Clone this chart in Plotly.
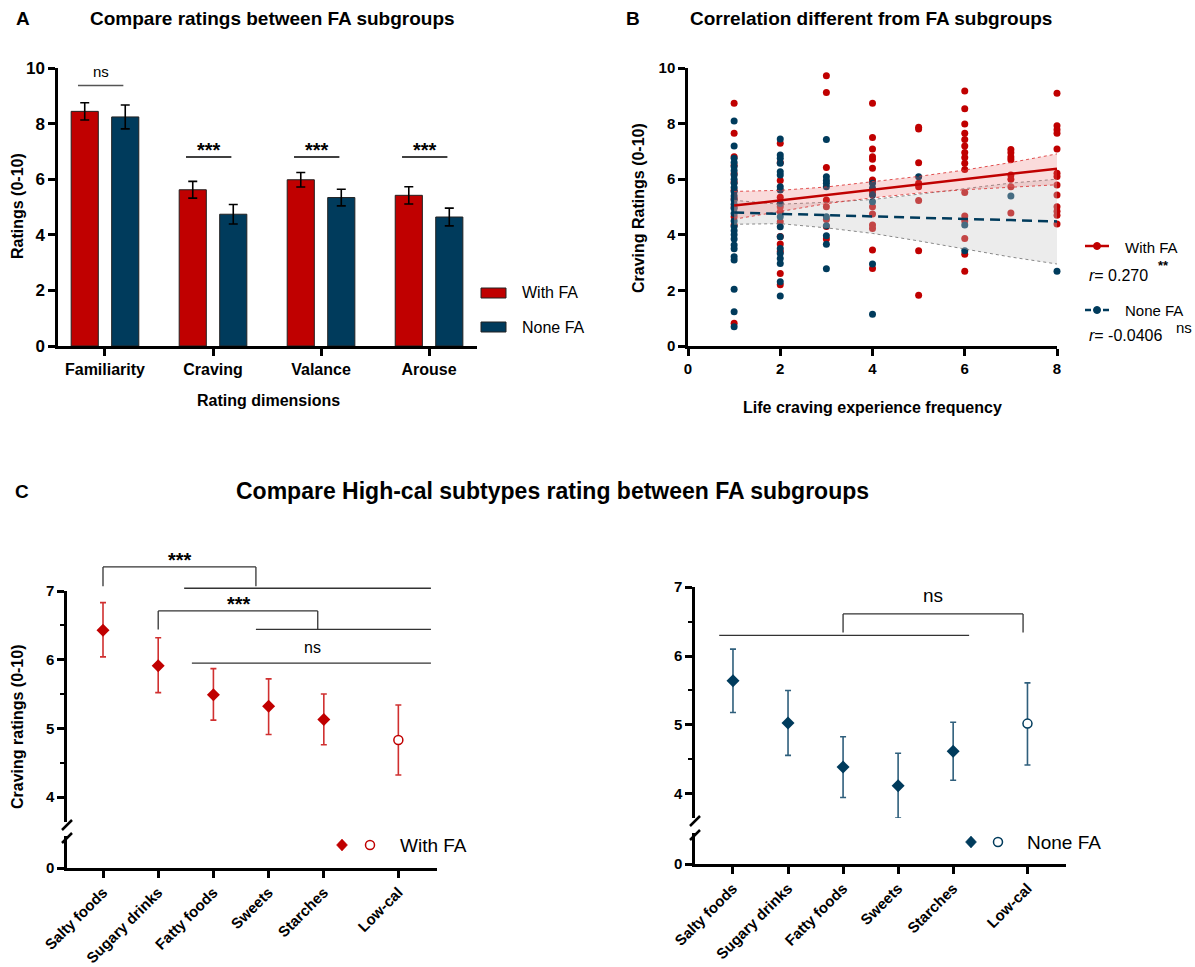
import plotly.graph_objects as go

W, H = 1195, 967

RED = "#C00000"
BLUE = "#003B5C"
RED_ERR = "#D03030"
BLUE_ERR = "#2F5F7C"
FONT = "Liberation Sans, Arial, Helvetica, sans-serif"

# ---------------- Panel A data ----------------
dims = ["Familiarity", "Craving", "Valance", "Arouse"]
a_fa_mean = [8.44, 5.62, 5.98, 5.42]
a_fa_sem = [0.31, 0.30, 0.26, 0.31]
a_nofa_mean = [8.24, 4.74, 5.34, 4.64]
a_nofa_sem = [0.43, 0.35, 0.30, 0.32]
a_sig_labels = ["ns", "***", "***", "***"]
a_sig_line_y = [9.37, 6.8, 6.8, 6.8]

# ---------------- Panel B data ----------------
b_freq_levels = [1, 2, 3, 4, 5, 6, 7, 8]
b_fa_ratings = [
    [8.73, 7.65, 6.81, 6.5, 6.2, 5.9, 5.6, 5.3, 5.0, 4.65, 4.35, 0.82],
    [7.29, 6.6, 5.95, 5.35, 5.01, 4.83, 4.47, 3.94, 3.67, 3.4, 2.61, 2.2],
    [9.72, 9.12, 6.42, 5.25, 5.01, 4.55, 4.3, 3.85],
    [8.73, 7.50, 7.09, 6.81, 6.72, 6.39, 5.97, 5.55, 5.01, 4.75, 4.35, 4.23, 3.45, 2.79],
    [7.87, 7.81, 6.59, 5.85, 5.73, 5.23, 3.43, 1.83],
    [9.17, 8.53, 7.99, 7.65, 7.43, 7.19, 6.96, 6.78, 6.57, 6.35, 5.52, 4.68, 4.5, 3.87, 3.3, 2.69],
    [7.07, 6.95, 6.8, 6.7, 6.15, 6.0, 5.73, 4.78],
    [9.09, 7.92, 7.78, 7.65, 7.09, 6.21, 6.1, 5.79, 5.43, 5.01, 4.85, 4.7, 4.39],
]
b_nofa_ratings = [
    [8.09, 7.19, 6.75, 6.6, 6.45, 6.3, 6.15, 6.0, 5.85, 5.7, 5.55, 5.4, 5.25, 5.1, 4.95,
     4.77, 4.5, 4.3, 4.15, 4.0, 3.85, 3.63, 3.5, 3.21, 3.09, 2.04, 1.23, 0.69],
    [7.45, 6.87, 6.75, 6.57, 6.27, 6.15, 5.73, 5.61, 5.13, 4.65, 4.29, 3.93, 3.51, 3.33,
     3.15, 2.97, 2.31, 1.80],
    [7.43, 6.09, 5.95, 5.85, 5.73, 4.65, 4.33, 3.97, 3.66, 2.78],
    [5.85, 5.67, 5.43, 5.19, 2.95, 1.14],
    [6.09],
    [4.35, 3.43],
    [5.40],
    [2.69],
]
b_fit_x = [1, 2, 3, 4, 5, 6, 7, 8]
b_fa_fit = [5.05, 5.24, 5.43, 5.62, 5.81, 6.00, 6.19, 6.38]
b_fa_ci_hi = [5.56, 5.60, 5.72, 5.90, 6.10, 6.33, 6.60, 6.91]
b_fa_ci_lo = [4.56, 4.85, 5.12, 5.33, 5.50, 5.62, 5.72, 5.80]
b_nofa_fit = [4.80, 4.75, 4.71, 4.66, 4.62, 4.57, 4.53, 4.48]
b_nofa_ci_hi = [5.24, 5.10, 5.17, 5.27, 5.46, 5.66, 5.86, 6.00]
b_nofa_ci_lo = [4.38, 4.40, 4.25, 4.05, 3.78, 3.48, 3.20, 2.95]
b_r_fa = "0.270"
b_r_nofa = "-0.0406"

# ---------------- Panel C data ----------------
c_cats = ["Salty foods", "Sugary drinks", "Fatty foods", "Sweets", "Starches", "Low-cal"]
c_fa_mean = [6.43, 5.91, 5.49, 5.32, 5.13, 4.83]
c_fa_hi = [6.83, 6.32, 5.87, 5.72, 5.50, 5.34]
c_fa_lo = [6.04, 5.52, 5.12, 4.91, 4.76, 4.32]
c_nofa_mean = [5.64, 5.03, 4.39, 4.12, 4.62, 5.02]
c_nofa_hi = [6.10, 5.50, 4.83, 4.59, 5.04, 5.61]
c_nofa_lo = [5.18, 4.56, 3.95, 3.65, 4.20, 4.42]

# ---------------- layout geometry (pixels) ----------------
c_slot = [0, 1, 2, 3, 4, 5.35]   # horizontal slots of the categories (Low-cal set apart)

A_X_DOM, A_X_RANGE = (58, 477), (-0.435, 3.444)
A_Y_DOM, A_Y_RANGE = (346, 68), (0, 10)
B_X_DOM, B_X_RANGE = (688, 1057), (0, 8)
B_Y_DOM, B_Y_RANGE = (346, 68), (0, 10)
CL_X_DOM, CL_X_RANGE = (67, 437), (-0.652, 6.05)
CL_YU_DOM, CL_YU_RANGE = (822, 591), (3.636, 7.0)
CL_YL_DOM, CL_YL_RANGE = (868, 836), (0, 0.466)
CR_X_DOM, CR_X_RANGE = (695, 1066), (-0.69, 6.05)
CR_YU_DOM, CR_YU_RANGE = (818, 587), (3.652, 7.0)
CR_YL_DOM, CR_YL_RANGE = (864, 833), (0, 0.449)


def PX(px):
    return px / W


def PY(py):
    return 1 - py / H


def lin(v, r, d):
    return d[0] + (v - r[0]) / (r[1] - r[0]) * (d[1] - d[0])


def xdom(d):
    return [PX(d[0]), PX(d[1])]


def ydom(d):
    return [PY(d[0]), PY(d[1])]


fig = go.Figure()

# ---------------- Panel A traces ----------------
fig.add_trace(go.Bar(
    x=dims, y=a_fa_mean, name="With FA", showlegend=False,
    marker=dict(color=RED, line=dict(color="#222222", width=1)),
    error_y=dict(type="data", array=a_fa_sem, color="black", thickness=1.6, width=4.5),
    xaxis="x", yaxis="y"))
fig.add_trace(go.Bar(
    x=dims, y=a_nofa_mean, name="None FA", showlegend=False,
    marker=dict(color=BLUE, line=dict(color="#222222", width=1)),
    error_y=dict(type="data", array=a_nofa_sem, color="black", thickness=1.6, width=4.5),
    xaxis="x", yaxis="y"))

# ---------------- Panel B traces ----------------
fa_x, fa_y, nf_x, nf_y = [], [], [], []
for lvl, vals in zip(b_freq_levels, b_fa_ratings):
    fa_x += [lvl] * len(vals)
    fa_y += vals
for lvl, vals in zip(b_freq_levels, b_nofa_ratings):
    nf_x += [lvl] * len(vals)
    nf_y += vals

fig.add_trace(go.Scatter(x=fa_x, y=fa_y, mode="markers", showlegend=False, cliponaxis=False,
                         marker=dict(color=RED, size=7), xaxis="x2", yaxis="y2"))
fig.add_trace(go.Scatter(x=nf_x, y=nf_y, mode="markers", showlegend=False, cliponaxis=False,
                         marker=dict(color=BLUE, size=7), xaxis="x2", yaxis="y2"))
fig.add_trace(go.Scatter(x=b_fit_x, y=b_nofa_ci_hi, mode="lines", showlegend=False,
                         line=dict(color="rgba(110,110,110,0.8)", width=1, dash="dot"),
                         xaxis="x2", yaxis="y2"))
fig.add_trace(go.Scatter(x=b_fit_x, y=b_nofa_ci_lo, mode="lines", showlegend=False, fill="tonexty",
                         fillcolor="rgba(200,200,200,0.35)",
                         line=dict(color="rgba(110,110,110,0.8)", width=1, dash="dot"),
                         xaxis="x2", yaxis="y2"))
fig.add_trace(go.Scatter(x=b_fit_x, y=b_fa_ci_hi, mode="lines", showlegend=False,
                         line=dict(color="rgba(220,50,50,0.85)", width=1, dash="dot"),
                         xaxis="x2", yaxis="y2"))
fig.add_trace(go.Scatter(x=b_fit_x, y=b_fa_ci_lo, mode="lines", showlegend=False, fill="tonexty",
                         fillcolor="rgba(235,110,110,0.25)",
                         line=dict(color="rgba(220,50,50,0.85)", width=1, dash="dot"),
                         xaxis="x2", yaxis="y2"))
fig.add_trace(go.Scatter(x=b_fit_x, y=b_fa_fit, mode="lines", showlegend=False,
                         line=dict(color=RED, width=2.5), xaxis="x2", yaxis="y2"))
fig.add_trace(go.Scatter(x=b_fit_x, y=b_nofa_fit, mode="lines", showlegend=False,
                         line=dict(color=BLUE, width=2.5, dash="10px,6px"), xaxis="x2", yaxis="y2"))


# ---------------- Panel C traces ----------------
def add_c(means, his, los, color, errc, xa, ya, ya_low):
    ep = [h - m for h, m in zip(his, means)]
    em = [m - l for m, l in zip(means, los)]
    fig.add_trace(go.Scatter(
        x=c_slot[:5], y=means[:5], mode="markers", showlegend=False, cliponaxis=False,
        marker=dict(symbol="diamond", size=10, color=color),
        error_y=dict(type="data", symmetric=False, array=ep[:5], arrayminus=em[:5],
                     color=errc, thickness=1.6, width=3),
        xaxis=xa, yaxis=ya))
    fig.add_trace(go.Scatter(
        x=c_slot[5:], y=means[5:], mode="markers", showlegend=False, cliponaxis=False,
        marker=dict(symbol="circle", size=9, color="white", line=dict(color=color, width=1.5)),
        error_y=dict(type="data", symmetric=False, array=ep[5:], arrayminus=em[5:],
                     color=errc, thickness=1.6, width=3),
        xaxis=xa, yaxis=ya))
    # invisible trace so that the lower (broken) axis segment exists
    fig.add_trace(go.Scatter(x=[c_slot[0]], y=[0], mode="markers", showlegend=False,
                             hoverinfo="skip", marker=dict(opacity=0, size=1),
                             xaxis=xa, yaxis=ya_low))


add_c(c_fa_mean, c_fa_hi, c_fa_lo, RED, RED_ERR, "x3", "y3", "y4")
add_c(c_nofa_mean, c_nofa_hi, c_nofa_lo, BLUE, BLUE_ERR, "x4", "y5", "y6")


# ---------------- axes ----------------
def axis(**kw):
    base = dict(showline=True, linecolor="black", linewidth=2.5, ticks="outside", ticklen=7,
                tickwidth=2.5, tickcolor="black", showgrid=False, zeroline=False, automargin=False,
                tickfont=dict(family=FONT, size=16, color="black", weight="bold"))
    base.update(kw)
    return base


def tf(s):
    return dict(family=FONT, size=s, color="black", weight="bold")


minor_c = dict(tickvals=[4.5, 5.5, 6.5], ticks="outside", ticklen=4, tickwidth=2, tickcolor="black")

layout_axes = dict(
    xaxis=axis(domain=xdom(A_X_DOM), range=list(A_X_RANGE), anchor="y", type="category",
               tickfont=tf(16)),
    yaxis=axis(domain=ydom(A_Y_DOM), range=list(A_Y_RANGE), anchor="x", dtick=2, tickfont=tf(17)),
    xaxis2=axis(domain=xdom(B_X_DOM), range=list(B_X_RANGE), anchor="y2", dtick=2, tickfont=tf(15)),
    yaxis2=axis(domain=ydom(B_Y_DOM), range=list(B_Y_RANGE), anchor="x2", dtick=2, tickfont=tf(15)),
    xaxis3=axis(domain=xdom(CL_X_DOM), range=list(CL_X_RANGE), anchor="y4",
                tickvals=c_slot, ticktext=c_cats, tickangle=-45, tickfont=tf(15)),
    yaxis3=axis(domain=ydom(CL_YU_DOM), range=list(CL_YU_RANGE), anchor="x3",
                tickvals=[4, 5, 6, 7], tickfont=tf(15), minor=minor_c),
    yaxis4=axis(domain=ydom(CL_YL_DOM), range=list(CL_YL_RANGE), anchor="x3",
                tickvals=[0], tickfont=tf(15)),
    xaxis4=axis(domain=xdom(CR_X_DOM), range=list(CR_X_RANGE), anchor="y6",
                tickvals=c_slot, ticktext=c_cats, tickangle=-45, tickfont=tf(15)),
    yaxis5=axis(domain=ydom(CR_YU_DOM), range=list(CR_YU_RANGE), anchor="x4",
                tickvals=[4, 5, 6, 7], tickfont=tf(15), minor=minor_c),
    yaxis6=axis(domain=ydom(CR_YL_DOM), range=list(CR_YL_RANGE), anchor="x4",
                tickvals=[0], tickfont=tf(15)),
)

shapes = []
ann = []


def text(x, y, t, size=15, bold=False, xanchor="center", yanchor="middle", angle=0, color="black"):
    ann.append(dict(x=PX(x), y=PY(y), xref="paper", yref="paper", text=t, showarrow=False,
                    xanchor=xanchor, yanchor=yanchor, textangle=angle,
                    font=dict(family=FONT, size=size, color=color,
                              weight="bold" if bold else "normal")))


def pline(x0, y0, x1, y1, color="black", width=1.3):
    shapes.append(dict(type="line", xref="paper", yref="paper", x0=PX(x0), y0=PY(y0),
                       x1=PX(x1), y1=PY(y1), line=dict(color=color, width=width)))


def pcircle(cx, cy, r, fill, line, lw=1.5):
    shapes.append(dict(type="circle", xref="paper", yref="paper", x0=PX(cx - r), x1=PX(cx + r),
                       y0=PY(cy + r), y1=PY(cy - r), fillcolor=fill, line=dict(color=line, width=lw)))


def pdiamond(cx, cy, rx, ry, color):
    path = "M {} {} L {} {} L {} {} L {} {} Z".format(
        PX(cx - rx), PY(cy), PX(cx), PY(cy - ry), PX(cx + rx), PY(cy), PX(cx), PY(cy + ry))
    shapes.append(dict(type="path", xref="paper", yref="paper", path=path, fillcolor=color,
                       line=dict(color=color, width=0.5)))


def prect(x0, y0, x1, y1, fill):
    shapes.append(dict(type="rect", xref="paper", yref="paper", x0=PX(x0), x1=PX(x1),
                       y0=PY(y1), y1=PY(y0), fillcolor=fill, line=dict(color="#222222", width=1)))


# ---------------- Panel titles ----------------
text(23, 18, "A", size=19, bold=True)
text(272, 18, "Compare ratings between FA subgroups", size=19, bold=True)
text(633, 18, "B", size=19, bold=True)
text(871, 18, "Correlation different from FA subgroups", size=19, bold=True)
text(22, 491, "C", size=19, bold=True)
text(552, 491, "Compare High-cal subtypes rating between FA subgroups", size=23, bold=True)

# axis titles
text(17, 206, "Ratings (0-10)", size=16, bold=True, angle=-90)
text(268, 400, "Rating dimensions", size=16, bold=True)
text(638, 208, "Craving Ratings (0-10)", size=16, bold=True, angle=-90)
text(872, 407, "Life craving experience frequency", size=16, bold=True)
text(17, 727, "Craving ratings (0-10)", size=16, bold=True, angle=-90)

# ---------------- Panel A significance ----------------
for i, (lab, ly) in enumerate(zip(a_sig_labels, a_sig_line_y)):
    x0 = lin(i - 0.25, A_X_RANGE, A_X_DOM)
    x1 = lin(i + 0.17, A_X_RANGE, A_X_DOM)
    yy = lin(ly, A_Y_RANGE, A_Y_DOM)
    pline(x0, yy, x1, yy, color="#555555" if lab == "ns" else "black", width=1.5)
    if lab == "ns":
        text((x0 + x1) / 2, yy - 14, lab, size=15)
    else:
        text((x0 + x1) / 2, yy - 7, lab, size=20, bold=True)

# Panel A legend
prect(481, 288, 506, 298, RED)
text(520, 293, "With FA", size=16, xanchor="left")
prect(481, 322, 506, 332, BLUE)
text(520, 327, "None FA", size=16, xanchor="left")

# ---------------- Panel B legend ----------------
pline(1085, 246, 1109, 246, color=RED, width=2.5)
pcircle(1097, 246, 3.5, RED, RED, 1)
text(1123, 247, "With FA", size=15, xanchor="left")
text(1087, 276, "<i>r</i>= " + b_r_fa, size=16, xanchor="left")
text(1156, 266, "**", size=13, bold=True, xanchor="left")
pline(1085, 310, 1091, 310, color=BLUE, width=2.5)
pline(1103, 310, 1109, 310, color=BLUE, width=2.5)
pcircle(1097, 310, 3.5, BLUE, BLUE, 1)
text(1123, 310, "None FA", size=15, xanchor="left")
text(1087, 335, "<i>r</i>= " + b_r_nofa, size=16, xanchor="left")
text(1174, 327, "ns", size=15, xanchor="left")


# ---------------- Panel C brackets ----------------
def cl(pos, v):
    return lin(pos, CL_X_RANGE, CL_X_DOM), lin(v, CL_YU_RANGE, CL_YU_DOM)


def cr(pos, v):
    return lin(pos, CR_X_RANGE, CR_X_DOM), lin(v, CR_YU_RANGE, CR_YU_DOM)


def bracket(m, xa, xb, ylo, yhi):
    p1 = m(xa, ylo); p2 = m(xa, yhi); p3 = m(xb, yhi); p4 = m(xb, ylo)
    pline(*p1, *p2, color="#333333"); pline(*p2, *p3, color="#333333"); pline(*p3, *p4, color="#333333")


def hline(m, xa, xb, y):
    p1 = m(xa, y); p2 = m(xb, y)
    pline(*p1, *p2, color="#333333")


bracket(cl, 0, 2.77, 7.07, 7.35)
hline(cl, 1.47, 5.94, 7.04)
bracket(cl, 1, 3.89, 6.44, 6.71)
hline(cl, 2.77, 5.94, 6.44)
hline(cl, 1.61, 5.94, 5.95)
px_, py_ = cl(1.4, 7.52); text(px_, py_ + 5, "***", size=20, bold=True)
px_, py_ = cl(2.46, 6.88); text(px_, py_ + 5, "***", size=20, bold=True)
px_, py_ = cl(3.79, 6.18); text(px_, py_, "ns", size=16)

hline(cr, -0.25, 4.29, 6.30)
bracket(cr, 2.0, 5.27, 6.34, 6.61)
px_, py_ = cr(3.64, 6.87); text(px_, py_, "ns", size=19)

# axis breaks
pline(62, 830, 72, 820, width=2.5)
pline(62, 843, 72, 833, width=2.5)
pline(690, 826, 700, 816, width=2.5)
pline(690, 840, 700, 830, width=2.5)

# ---------------- Panel C legends ----------------
pdiamond(342, 845, 5.5, 6, RED)
pcircle(370, 845, 4.5, "white", RED, 1.5)
text(398, 845, "With FA", size=19, xanchor="left")
pdiamond(971, 842, 5.5, 6, BLUE)
pcircle(998, 842, 4.5, "white", BLUE, 1.5)
text(1025, 842, "None FA", size=19, xanchor="left")

fig.update_layout(
    width=W, height=H, margin=dict(l=0, r=0, t=0, b=0, autoexpand=False),
    paper_bgcolor="white", plot_bgcolor="white",
    font=dict(family=FONT, color="black"),
    barmode="group", bargap=0.25, bargroupgap=0.33,
    showlegend=False, shapes=shapes, annotations=ann,
    **layout_axes,
)

fig.write_html("out.html", config={"displayModeBar": False},
               post_script="document.body.style.margin='0';document.body.style.overflow='hidden';")
